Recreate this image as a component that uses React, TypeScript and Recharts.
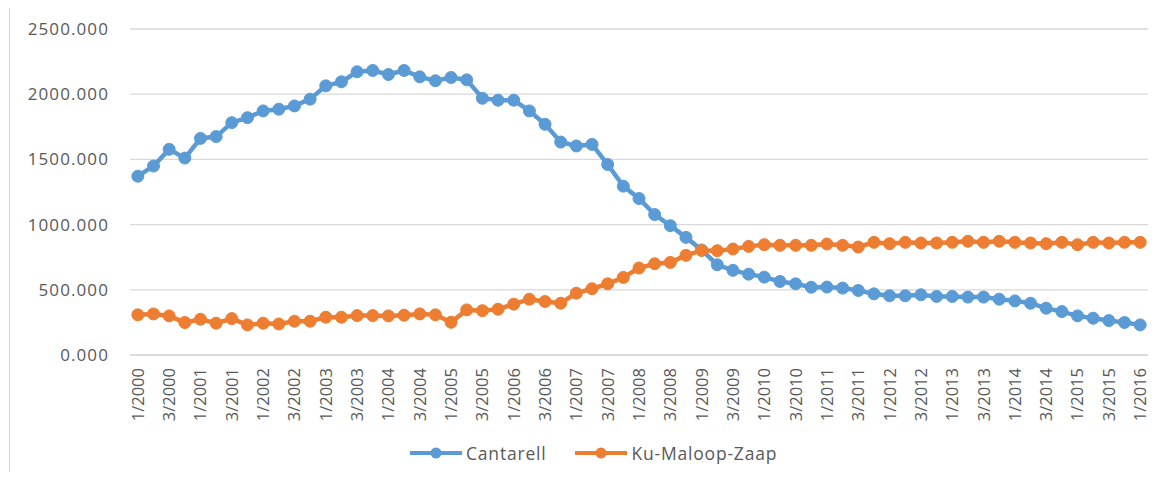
import React from 'react';
import { CartesianGrid, Line, LineChart, XAxis, YAxis } from 'recharts';

// Quarter labels 1/2000 ... 1/2016
const years = [2000, 2001, 2002, 2003, 2004, 2005, 2006, 2007, 2008, 2009, 2010, 2011, 2012, 2013, 2014, 2015];
const quarters: string[] = [...years.flatMap((y) => [`1/${y}`, `2/${y}`, `3/${y}`, `4/${y}`]), '1/2016'];

// Cantarell (miles de barriles diarios)
const cantarell = [
  1371, 1449, 1577, 1510, 1661, 1675, 1782, 1820, 1872, 1885, 1910, 1962, 2064, 2095, 2172, 2182,
  2151, 2182, 2133, 2103, 2128, 2110, 1969, 1954, 1954, 1872, 1769, 1633, 1603, 1615, 1461, 1295,
  1200, 1077, 992, 902, 805, 692, 649, 620, 597, 564, 546, 520, 521, 513, 495, 469,
  454, 454, 462, 449, 449, 444, 444, 428, 415, 397, 359, 333, 300, 282, 264, 249, 231,
];

// Ku-Maloop-Zaap
const kmz = [
  308, 315, 300, 249, 274, 244, 279, 231, 244, 238, 259, 259, 290, 290, 302, 302,
  300, 305, 315, 308, 251, 346, 340, 351, 390, 428, 410, 397, 474, 508, 546, 595,
  667, 700, 710, 764, 802, 800, 813, 833, 846, 841, 841, 841, 851, 841, 828, 864,
  854, 864, 859, 859, 864, 872, 864, 872, 864, 859, 854, 864, 846, 864, 859, 864, 864,
];

const yTicks = [0, 500, 1000, 1500, 2000, 2500];

const data = quarters.map((q, i) => ({ q, cantarell: cantarell[i], kmz: kmz[i] }));

const BLUE = '#5B9BD5';
const ORANGE = '#ED7D31';
const TEXT = '#595959';
const FONT = '"Open Sans", "Noto Sans", sans-serif';

const QuarterTick = (props: any) => {
  const { x, y, payload } = props;
  return (
    <g transform={`translate(${x},${y})`}>
      <text transform="rotate(-90)" x={0} y={0} dy="0.36em" textAnchor="end" fill={TEXT} fontSize={16.5} fontFamily={FONT}>
        {payload.value}
      </text>
    </g>
  );
};

const LegendItem = ({ color, label }: { color: string; label: string }) => (
  <span style={{ display: 'inline-flex', alignItems: 'center', marginRight: 29 }}>
    <svg width={52} height={14} style={{ marginRight: 4 }}>
      <line x1={0} y1={7} x2={52} y2={7} stroke={color} strokeWidth={4} />
      <circle cx={26} cy={7} r={5.5} fill={color} />
    </svg>
    <span>{label}</span>
  </span>
);

export default function App() {
  return (
    <div style={{ position: 'relative', margin: -8, width: 1162, height: 480, overflow: 'hidden', background: '#fff', fontFamily: FONT }}>
      <div style={{ position: 'absolute', left: 9, top: 6, width: 1170, height: 500, border: '1px solid #d9d9d9' }} />
      <div style={{ position: 'absolute', left: 0, width: 1138, top: -16, textAlign: 'center', fontSize: 19, color: TEXT, letterSpacing: 0.8 }}>
        (Miles de barriles diarios)
      </div>
      <div style={{ position: 'absolute', left: 0, top: 0 }}>
        <LineChart width={1162} height={480} data={data} margin={{ top: 29, right: 14, left: 0, bottom: 35 }}>
          <CartesianGrid vertical={false} stroke="#d9d9d9" strokeWidth={1.3} />
          <XAxis
            dataKey="q"
            scale="band"
            interval={1}
            height={90}
            tick={<QuarterTick />}
            tickLine={false}
            tickSize={0}
            tickMargin={13}
            axisLine={{ stroke: '#d9d9d9', strokeWidth: 1.3 }}
          />
          <YAxis
            domain={[0, 2500]}
            ticks={yTicks}
            width={130}
            axisLine={false}
            tickLine={false}
            tickSize={0}
            tickMargin={21}
            tickFormatter={(v: number) => v.toFixed(3)}
            tick={{ fill: TEXT, fontSize: 17, fontFamily: FONT, letterSpacing: 1.1 }}
          />
          <Line
            dataKey="cantarell"
            name="Cantarell"
            stroke={BLUE}
            strokeWidth={4.5}
            dot={{ r: 6, fill: BLUE, stroke: BLUE, strokeWidth: 1 }}
            isAnimationActive={false}
          />
          <Line
            dataKey="kmz"
            name="Ku-Maloop-Zaap"
            stroke={ORANGE}
            strokeWidth={4.5}
            dot={{ r: 6, fill: ORANGE, stroke: ORANGE, strokeWidth: 1 }}
            isAnimationActive={false}
          />
        </LineChart>
      </div>
      <div style={{ position: 'absolute', left: 410, top: 441, fontSize: 17.5, letterSpacing: 0.8, color: TEXT, display: 'flex', whiteSpace: 'nowrap' }}>
        <LegendItem color={BLUE} label="Cantarell" />
        <LegendItem color={ORANGE} label="Ku-Maloop-Zaap" />
      </div>
    </div>
  );
}
